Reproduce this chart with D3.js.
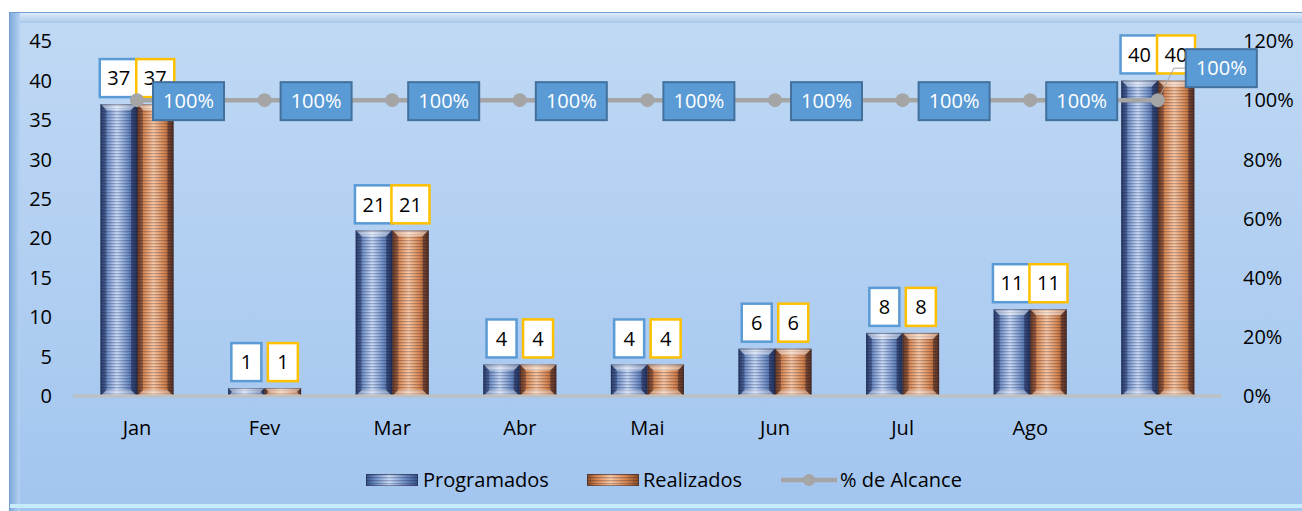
<!DOCTYPE html>
<html><head><meta charset="utf-8">
<script src="https://cdn.jsdelivr.net/npm/d3@7"></script>
<style>html,body{margin:0;padding:0;background:#fff;}svg{display:block;font-family:"Open Sans",Lato,sans-serif;}</style>
</head><body><svg id="c" width="1302" height="511"></svg>
<script>
const categories = ["Jan","Fev","Mar","Abr","Mai","Jun","Jul","Ago","Set"];
const programados = [37,1,21,4,4,6,8,11,40];
const realizados = [37,1,21,4,4,6,8,11,40];
const alcance = [1,1,1,1,1,1,1,1,1];
const leftTicks = [0,5,10,15,20,25,30,35,40,45];
const rightTicks = [0,0.2,0.4,0.6,0.8,1.0,1.2];
const seriesNames = ["Programados","Realizados","% de Alcance"];

const svg = d3.select("#c");
const defs = svg.append("defs");

const bg = defs.append("linearGradient").attr("id","bg").attr("x1",0).attr("y1",0).attr("x2",0).attr("y2",1);
bg.append("stop").attr("offset","0%").attr("stop-color","#c0d9f4");
bg.append("stop").attr("offset","100%").attr("stop-color","#a2c5ef");
const topB = defs.append("linearGradient").attr("id","topB").attr("x1",0).attr("y1",0).attr("x2",0).attr("y2",1);
topB.append("stop").attr("offset","0%").attr("stop-color","#e2effa");
topB.append("stop").attr("offset","100%").attr("stop-color","#a9c8ea");
const leftB = defs.append("linearGradient").attr("id","leftB").attr("x1",0).attr("y1",0).attr("x2",1).attr("y2",0);
leftB.append("stop").attr("offset","0%").attr("stop-color","#7ea7d8");
leftB.append("stop").attr("offset","60%").attr("stop-color","#9dbfe8");
leftB.append("stop").attr("offset","100%").attr("stop-color","#b7d3f2");

svg.append("rect").attr("x",9).attr("y",12).attr("width",1293).attr("height",499).attr("fill","url(#bg)");
svg.append("rect").attr("x",9).attr("y",12).attr("width",1293).attr("height",11).attr("fill","url(#topB)");
svg.append("rect").attr("x",9).attr("y",12).attr("width",11).attr("height",499).attr("fill","url(#leftB)");
svg.append("rect").attr("x",9).attr("y",504).attr("width",1293).attr("height",4).attr("fill","#c6ecfb");
svg.append("line").attr("x1",9).attr("x2",1302).attr("y1",12.5).attr("y2",12.5).attr("stroke","#6f9fd3").attr("stroke-width",1);
svg.append("line").attr("x1",9.5).attr("x2",9.5).attr("y1",12).attr("y2",511).attr("stroke","#6f9fd3").attr("stroke-width",1);

function barDefs(id, dark, mid, light) {
  const g = defs.append("linearGradient").attr("id",id+"G").attr("x1",0).attr("y1",0).attr("x2",1).attr("y2",0);
  g.append("stop").attr("offset","0%").attr("stop-color",dark);
  g.append("stop").attr("offset","18%").attr("stop-color",mid);
  g.append("stop").attr("offset","45%").attr("stop-color",light);
  g.append("stop").attr("offset","75%").attr("stop-color",mid);
  g.append("stop").attr("offset","100%").attr("stop-color",dark);
  const p = defs.append("pattern").attr("id",id+"S").attr("patternUnits","userSpaceOnUse").attr("width",4).attr("height",3);
  p.append("rect").attr("width",4).attr("height",1.3).attr("fill","rgba(30,30,50,0.28)");
}
barDefs("blue","#34508a","#6f8fc8","#c9dcfb");
barDefs("orange","#8a4a22","#d98650","#fbc9a4");

const x0 = d3.scaleBand().domain(categories).range([73.2,1221.6]).paddingInner(0).paddingOuter(0);
const groupW = x0.bandwidth()*0.572;
const x1 = d3.scaleBand().domain(["p","r"]).range([0,groupW]).padding(0);
const yL = d3.scaleLinear().domain([0,45]).range([396,41]);
const yR = d3.scaleLinear().domain([0,1.2]).range([396,41]);

const fs = 20;
svg.append("g").selectAll("text").data(leftTicks).join("text")
  .attr("x",52).attr("y",d=>yL(d)).attr("dy","0.36em").attr("text-anchor","end")
  .attr("font-size",fs).attr("fill","#000").text(d=>d);
svg.append("g").selectAll("text").data(rightTicks).join("text")
  .attr("x",1243).attr("y",d=>yR(d)).attr("dy","0.36em").attr("text-anchor","start")
  .attr("font-size",fs).attr("fill","#000").text(d=>d3.format(".0%")(d));
svg.append("g").selectAll("text").data(categories).join("text")
  .attr("x",d=>x0(d)+x0.bandwidth()/2).attr("y",428).attr("dy","0.36em").attr("text-anchor","middle")
  .attr("font-size",fs).attr("fill","#000").text(d=>d);

const series = [{key:"p",vals:programados,id:"blue",border:"#5b9bd5"},{key:"r",vals:realizados,id:"orange",border:"#ffc000"}];
series.forEach(s=>{
  const g = svg.append("g");
  categories.forEach((c,i)=>{
    const bx = x0(c)+(x0.bandwidth()-groupW)/2 + x1(s.key);
    const bw = x1.bandwidth();
    const by = yL(s.vals[i]); const bh = yL(0)-by;
    g.append("rect").attr("x",bx).attr("y",by).attr("width",bw).attr("height",bh).attr("fill",`url(#${s.id}G)`);
    g.append("rect").attr("x",bx).attr("y",by).attr("width",bw).attr("height",bh).attr("fill",`url(#${s.id}S)`);
    const b = Math.min(6, bh/2);
    g.append("path").attr("d",`M${bx},${by}L${bx+bw},${by}L${bx+bw-b},${by+b}L${bx+b},${by+b}Z`).attr("fill","rgba(255,255,255,0.45)");
    g.append("path").attr("d",`M${bx},${by+bh}L${bx+bw},${by+bh}L${bx+bw-b},${by+bh-b}L${bx+b},${by+bh-b}Z`).attr("fill","rgba(255,255,255,0.35)");
    g.append("path").attr("d",`M${bx},${by}L${bx+b},${by+b}L${bx+b},${by+bh-b}L${bx},${by+bh}Z`).attr("fill","rgba(0,0,30,0.25)");
    g.append("path").attr("d",`M${bx+bw},${by}L${bx+bw-b},${by+b}L${bx+bw-b},${by+bh-b}L${bx+bw},${by+bh}Z`).attr("fill","rgba(0,0,30,0.35)");
    g.append("rect").attr("x",bx+0.5).attr("y",by+0.5).attr("width",bw-1).attr("height",Math.max(0,bh-1)).attr("fill","none").attr("stroke","rgba(40,40,60,0.45)").attr("stroke-width",1);
  });
});

svg.append("line").attr("x1",73.2).attr("x2",1221.6).attr("y1",396).attr("y2",396).attr("stroke","#bfbfbf").attr("stroke-width",3);

series.forEach(s=>{
  categories.forEach((c,i)=>{
    const cx = x0(c)+(x0.bandwidth()-groupW)/2 + x1(s.key)+x1.bandwidth()/2;
    const txt = String(s.vals[i]);
    const w = txt.length>1?38:30, h=38;
    const by = yL(s.vals[i]) - 7 - h;
    svg.append("rect").attr("x",cx-w/2).attr("y",by).attr("width",w).attr("height",h)
      .attr("fill","#fff").attr("stroke",s.border).attr("stroke-width",2.5);
    svg.append("text").attr("x",cx).attr("y",by+h/2).attr("dy","0.36em").attr("text-anchor","middle")
      .attr("font-size",fs).attr("fill","#000").text(txt);
  });
});

const lineGen = d3.line().x((d,i)=>x0(categories[i])+x0.bandwidth()/2).y(d=>yR(d));
svg.append("path").datum(alcance).attr("d",lineGen).attr("fill","none").attr("stroke","#a5a5a5").attr("stroke-width",4.5);
svg.append("g").selectAll("circle").data(alcance).join("circle")
  .attr("cx",(d,i)=>x0(categories[i])+x0.bandwidth()/2).attr("cy",d=>yR(d)).attr("r",7).attr("fill","#a5a5a5");

alcance.forEach((d,i)=>{
  const px = x0(categories[i])+x0.bandwidth()/2, py = yR(d);
  let lx = px+16, ly = py-18;
  if (i===alcance.length-1) {
    lx = px+28; ly = py-51;
    svg.append("path").attr("d",`M${px},${py}L${px+16},${ly+19}L${lx},${ly+19}`).attr("fill","none").attr("stroke","#a5a5a5").attr("stroke-width",1);
  }
  svg.append("rect").attr("x",lx).attr("y",ly).attr("width",71).attr("height",38)
    .attr("fill","#5b9bd5").attr("stroke","#41719c").attr("stroke-width",2);
  svg.append("text").attr("x",lx+35.5).attr("y",ly+19).attr("dy","0.36em").attr("text-anchor","middle")
    .attr("font-size",fs).attr("fill","#fff").text(d3.format(".0%")(d));
});

const lg = svg.append("g");
[[366,"blue"],[587,"orange"]].forEach(([lx,id])=>{
  lg.append("rect").attr("x",lx).attr("y",474).attr("width",52).attr("height",12).attr("fill",`url(#${id}G)`);
  lg.append("rect").attr("x",lx).attr("y",474).attr("width",52).attr("height",12).attr("fill",`url(#${id}S)`);
  lg.append("rect").attr("x",lx+0.5).attr("y",474.5).attr("width",51).attr("height",11).attr("fill","none").attr("stroke","rgba(40,40,60,0.5)");
});
lg.append("line").attr("x1",781).attr("x2",837).attr("y1",480).attr("y2",480).attr("stroke","#a5a5a5").attr("stroke-width",4.5);
lg.append("circle").attr("cx",809).attr("cy",480).attr("r",6).attr("fill","#a5a5a5");
[[423,seriesNames[0]],[643,seriesNames[1]],[840,seriesNames[2]]].forEach(([tx,t])=>{
  lg.append("text").attr("x",tx).attr("y",480).attr("dy","0.36em").attr("font-size",fs).attr("fill","#000").text(t);
});
</script></body></html>
